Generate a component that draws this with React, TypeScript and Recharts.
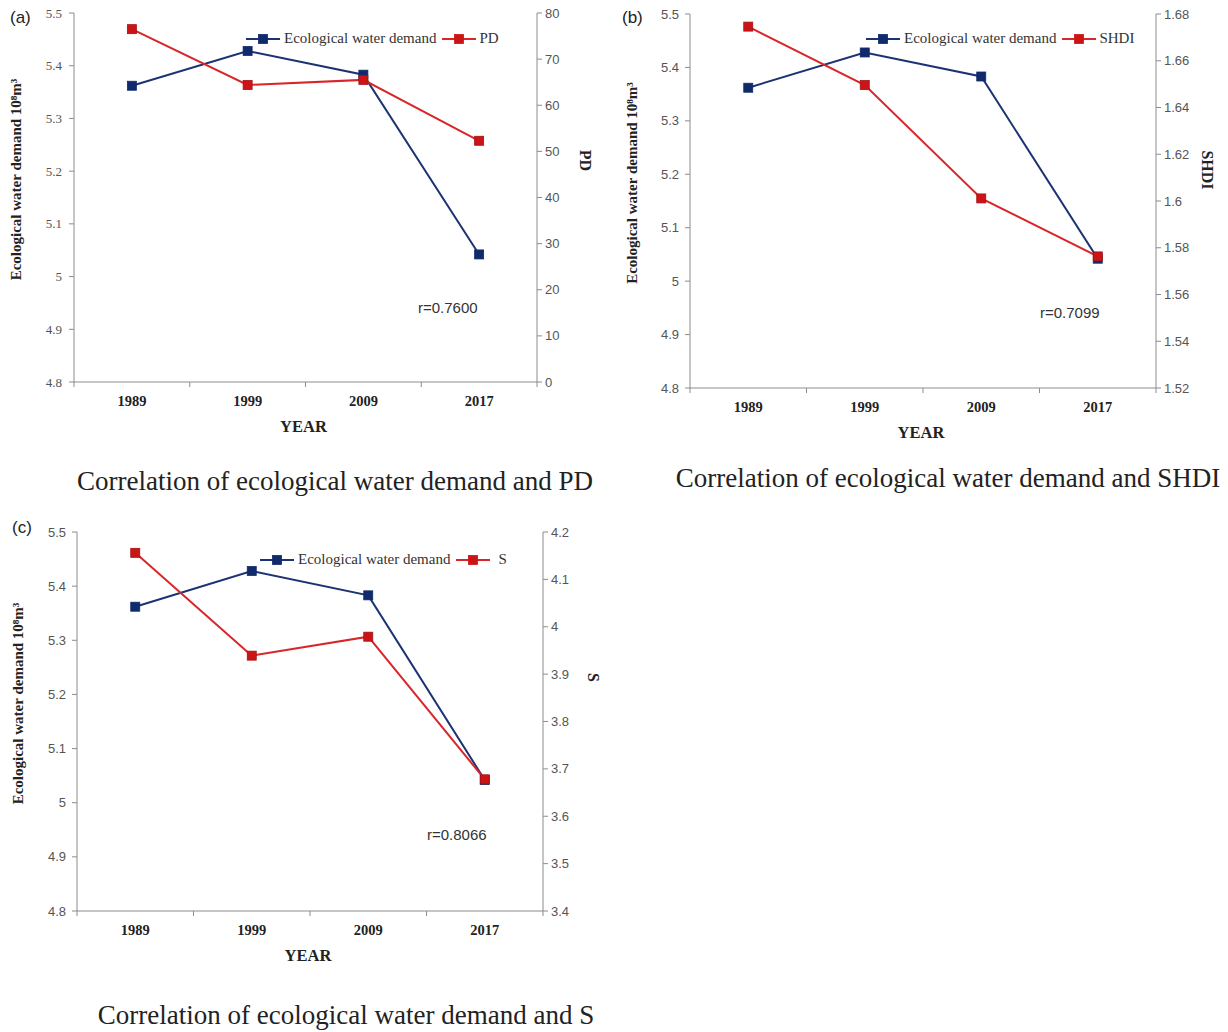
import React from 'react';
import { LineChart, Line, XAxis, YAxis, Label, Legend } from 'recharts';

const years = ['1989', '1999', '2009', '2017'];
const ewdValues = [5.362, 5.428, 5.383, 5.042];
const pdValues = [76.5, 64.4, 65.5, 52.3];
const shdiValues = [1.6746, 1.6496, 1.6011, 1.5763];
const sValues = [4.156, 3.939, 3.979, 3.678];

const ewdTicks = [4.8, 4.9, 5.0, 5.1, 5.2, 5.3, 5.4, 5.5];
const pdTicks = [0, 10, 20, 30, 40, 50, 60, 70, 80];
const shdiTicks = [1.52, 1.54, 1.56, 1.58, 1.6, 1.62, 1.64, 1.66, 1.68];
const sTicks = [3.4, 3.5, 3.6, 3.7, 3.8, 3.9, 4.0, 4.1, 4.2];

const ewdName = 'Ecological water demand';
const leftTitle = 'Ecological water demand 10⁸m³';

const BLUE = '#1b3372';
const BLUE_DOT = '#102a6c';
const RED = '#d8262a';
const RED_DOT = '#cc1417';
const AXIS = '#8c8c8c';
const SERIF = '"Liberation Serif", "Times New Roman", serif';
const SANS = '"Liberation Sans", Arial, sans-serif';

const fmt = (v: number) => String(Number(v.toFixed(2)));

const squareDot = (fill: string, stroke: string, tag: string) => (props: any) => {
  const { cx, cy, index } = props;
  if (cx == null || cy == null) return <g key={`${tag}${index}`} />;
  return (
    <rect key={`${tag}${index}`} x={cx - 4.5} y={cy - 4.5} width={9} height={9}
      fill={fill} stroke={stroke} strokeWidth={0.8} />
  );
};

const XTick = (props: any) => {
  const { x, y, payload, index } = props;
  const axisY = y - 9;
  const half = payload && payload.offset ? payload.offset : 58;
  return (
    <g>
      <line x1={x - half} y1={axisY} x2={x - half} y2={axisY + 5} stroke={AXIS} />
      {index === 3 ? <line x1={x + half} y1={axisY} x2={x + half} y2={axisY + 5} stroke={AXIS} /> : null}
      <text x={x} y={axisY + 19} textAnchor="middle" dominantBaseline="central"
        fontFamily={SERIF} fontWeight="bold" fontSize={14.5} fill="#222">{payload.value}</text>
    </g>
  );
};

const LegendIcon = ({ color, dot }: { color: string; dot: string }) => (
  <svg width={34} height={12} style={{ display: 'block' }}>
    <line x1={0} y1={6} x2={34} y2={6} stroke={color} strokeWidth={2} />
    <rect x={12.5} y={1.5} width={9} height={9} fill={dot} stroke={dot} strokeWidth={0.8} />
  </svg>
);

type Cfg = {
  key: string;
  left: number;
  top: number;
  width: number;
  height: number;
  mTop: number;
  leftW: number;
  rightW: number;
  xH: number;
  sec: number[];
  secName: string;
  secTicks: number[];
  leftSerif: boolean;
  rightTitleDy: number;
  leftTitleX: number;
  rightTitleX: number;
  legendLeft: number;
  legendTop: number;
  secGap: number;
  rText: string;
  rLeft: number;
  rTop: number;
};

const Panel = ({ c }: { c: Cfg }) => {
  const data = years.map((y, i) => ({ year: y, ewd: ewdValues[i], sec: c.sec[i] }));
  const plotH = c.height - c.mTop - c.xH;
  return (
    <div style={{ position: 'absolute', left: c.left, top: c.top, width: c.width, height: c.height }}>
      <LineChart width={c.width} height={c.height} data={data}
        margin={{ top: c.mTop, right: 0, bottom: 0, left: 0 }}>
        <XAxis dataKey="year" scale="band" type="category" height={c.xH}
          stroke={AXIS} tickLine={false} tickSize={5} tickMargin={4}
          tick={<XTick />} interval={0}>
          <Label content={(p: any) => {
            const vb = p.viewBox || {};
            return (
              <text x={vb.x + vb.width / 2 - 2} y={vb.y + 44} textAnchor="middle" dominantBaseline="central"
                fontFamily={SERIF} fontWeight="bold" fontSize={16.5} fill="#222">YEAR</text>
            );
          }} />
        </XAxis>
        <YAxis yAxisId="l" domain={[4.8, 5.5]} ticks={ewdTicks} width={c.leftW}
          stroke={AXIS} tickSize={5} tickMargin={c.leftSerif ? 7 : 6} tickFormatter={fmt}
          allowDataOverflow
          tick={{ fill: '#555', fontSize: 13, fontFamily: c.leftSerif ? SERIF : SANS }}>
          <Label content={(p: any) => {
            const tx = c.leftTitleX;
            const ty = c.mTop + plotH / 2 - 18;
            return (
              <text transform={`translate(${tx},${ty}) rotate(-90)`} textAnchor="middle"
                dominantBaseline="central" fontFamily={SERIF} fontWeight="bold" fontSize={15} fill="#222">
                {leftTitle}
              </text>
            );
          }} />
        </YAxis>
        <YAxis yAxisId="r" orientation="right" domain={[c.secTicks[0], c.secTicks[c.secTicks.length - 1]]}
          ticks={c.secTicks} width={c.rightW} stroke={AXIS} tickSize={5} tickMargin={3}
          tickFormatter={fmt} allowDataOverflow
          tick={{ fill: '#555', fontSize: 13, fontFamily: SANS }}>
          <Label content={(p: any) => {
            const tx = c.rightTitleX;
            const ty = c.mTop + plotH / 2 + c.rightTitleDy;
            return (
              <text transform={`translate(${tx},${ty}) rotate(90)`} textAnchor="middle"
                dominantBaseline="central" fontFamily={SERIF} fontWeight="bold" fontSize={16} fill="#222">
                {c.secName}
              </text>
            );
          }} />
        </YAxis>
        <Legend layout="horizontal" align="center" verticalAlign="middle"
          wrapperStyle={{ position: 'absolute', left: c.legendLeft, top: c.legendTop, width: 'auto', height: 'auto' }}
          content={() => (
            <div style={{ display: 'flex', alignItems: 'center', fontFamily: SERIF, fontSize: 15, color: '#333', whiteSpace: 'nowrap' }}>
              <LegendIcon color={BLUE} dot={BLUE_DOT} />
              <span style={{ marginLeft: 4 }}>{ewdName}</span>
              <span style={{ marginLeft: 6 }}><LegendIcon color={RED} dot={RED_DOT} /></span>
              <span style={{ marginLeft: c.secGap }}>{c.secName}</span>
            </div>
          )} />
        <Line yAxisId="l" type="linear" dataKey="ewd" name={ewdName} stroke={BLUE} strokeWidth={2}
          dot={squareDot(BLUE_DOT, BLUE_DOT, `${c.key}b`)} activeDot={false} isAnimationActive={false} />
        <Line yAxisId="r" type="linear" dataKey="sec" name={c.secName} stroke={RED} strokeWidth={2}
          dot={squareDot(RED_DOT, '#a51014', `${c.key}r`)} activeDot={false} isAnimationActive={false} />
      </LineChart>
      <div style={{ position: 'absolute', left: c.rLeft, top: c.rTop, fontFamily: SANS, fontSize: 15, color: '#333', whiteSpace: 'nowrap' }}>
        {c.rText}
      </div>
    </div>
  );
};

const cfgs: Cfg[] = [
  {
    key: 'a', left: 0, top: 0, width: 600, height: 440, mTop: 13, leftW: 74, rightW: 63, xH: 58,
    sec: pdValues, secName: 'PD', secTicks: pdTicks, leftSerif: true, rightTitleDy: -37,
    leftTitleX: 16, rightTitleX: 585, legendLeft: 246, legendTop: 30, secGap: 3,
    rText: 'r=0.7600', rLeft: 418, rTop: 299,
  },
  {
    key: 'b', left: 615, top: 0, width: 613, height: 450, mTop: 14, leftW: 75, rightW: 72, xH: 62,
    sec: shdiValues, secName: 'SHDI', secTicks: shdiTicks, leftSerif: false, rightTitleDy: -31,
    leftTitleX: 17, rightTitleX: 592, legendLeft: 251, legendTop: 30, secGap: 3,
    rText: 'r=0.7099', rLeft: 425, rTop: 304,
  },
  {
    key: 'c', left: 0, top: 519, width: 600, height: 450, mTop: 13, leftW: 77, rightW: 57, xH: 58,
    sec: sValues, secName: 'S', secTicks: sTicks, leftSerif: false, rightTitleDy: -44,
    leftTitleX: 18, rightTitleX: 593, legendLeft: 260, legendTop: 32, secGap: 8,
    rText: 'r=0.8066', rLeft: 427, rTop: 307,
  },
];

const captions = [
  { text: 'Correlation of ecological water demand and PD', cx: 335, cy: 481 },
  { text: 'Correlation of ecological water demand and SHDI', cx: 948, cy: 478 },
  { text: 'Correlation of ecological water demand and S', cx: 346, cy: 1015 },
];

const letters = [
  { text: '(a)', x: 10, y: 18 },
  { text: '(b)', x: 622, y: 18 },
  { text: '(c)', x: 12, y: 528 },
];

export default function App() {
  return (
    <div style={{ position: 'absolute', left: 0, top: 0, width: 1228, height: 1032, background: '#fff', overflow: 'hidden' }}>
      {cfgs.map((c) => <Panel key={c.key} c={c} />)}
      {captions.map((cp) => (
        <div key={cp.text} style={{
          position: 'absolute', left: cp.cx - 400, width: 800, top: cp.cy - 16, height: 32, lineHeight: '32px',
          textAlign: 'center', fontFamily: SERIF, fontSize: 27, color: '#222', whiteSpace: 'nowrap',
        }}>{cp.text}</div>
      ))}
      {letters.map((l) => (
        <div key={l.text} style={{
          position: 'absolute', left: l.x, top: l.y - 11, height: 22, lineHeight: '22px',
          fontFamily: SANS, fontSize: 17, color: '#222',
        }}>{l.text}</div>
      ))}
    </div>
  );
}
